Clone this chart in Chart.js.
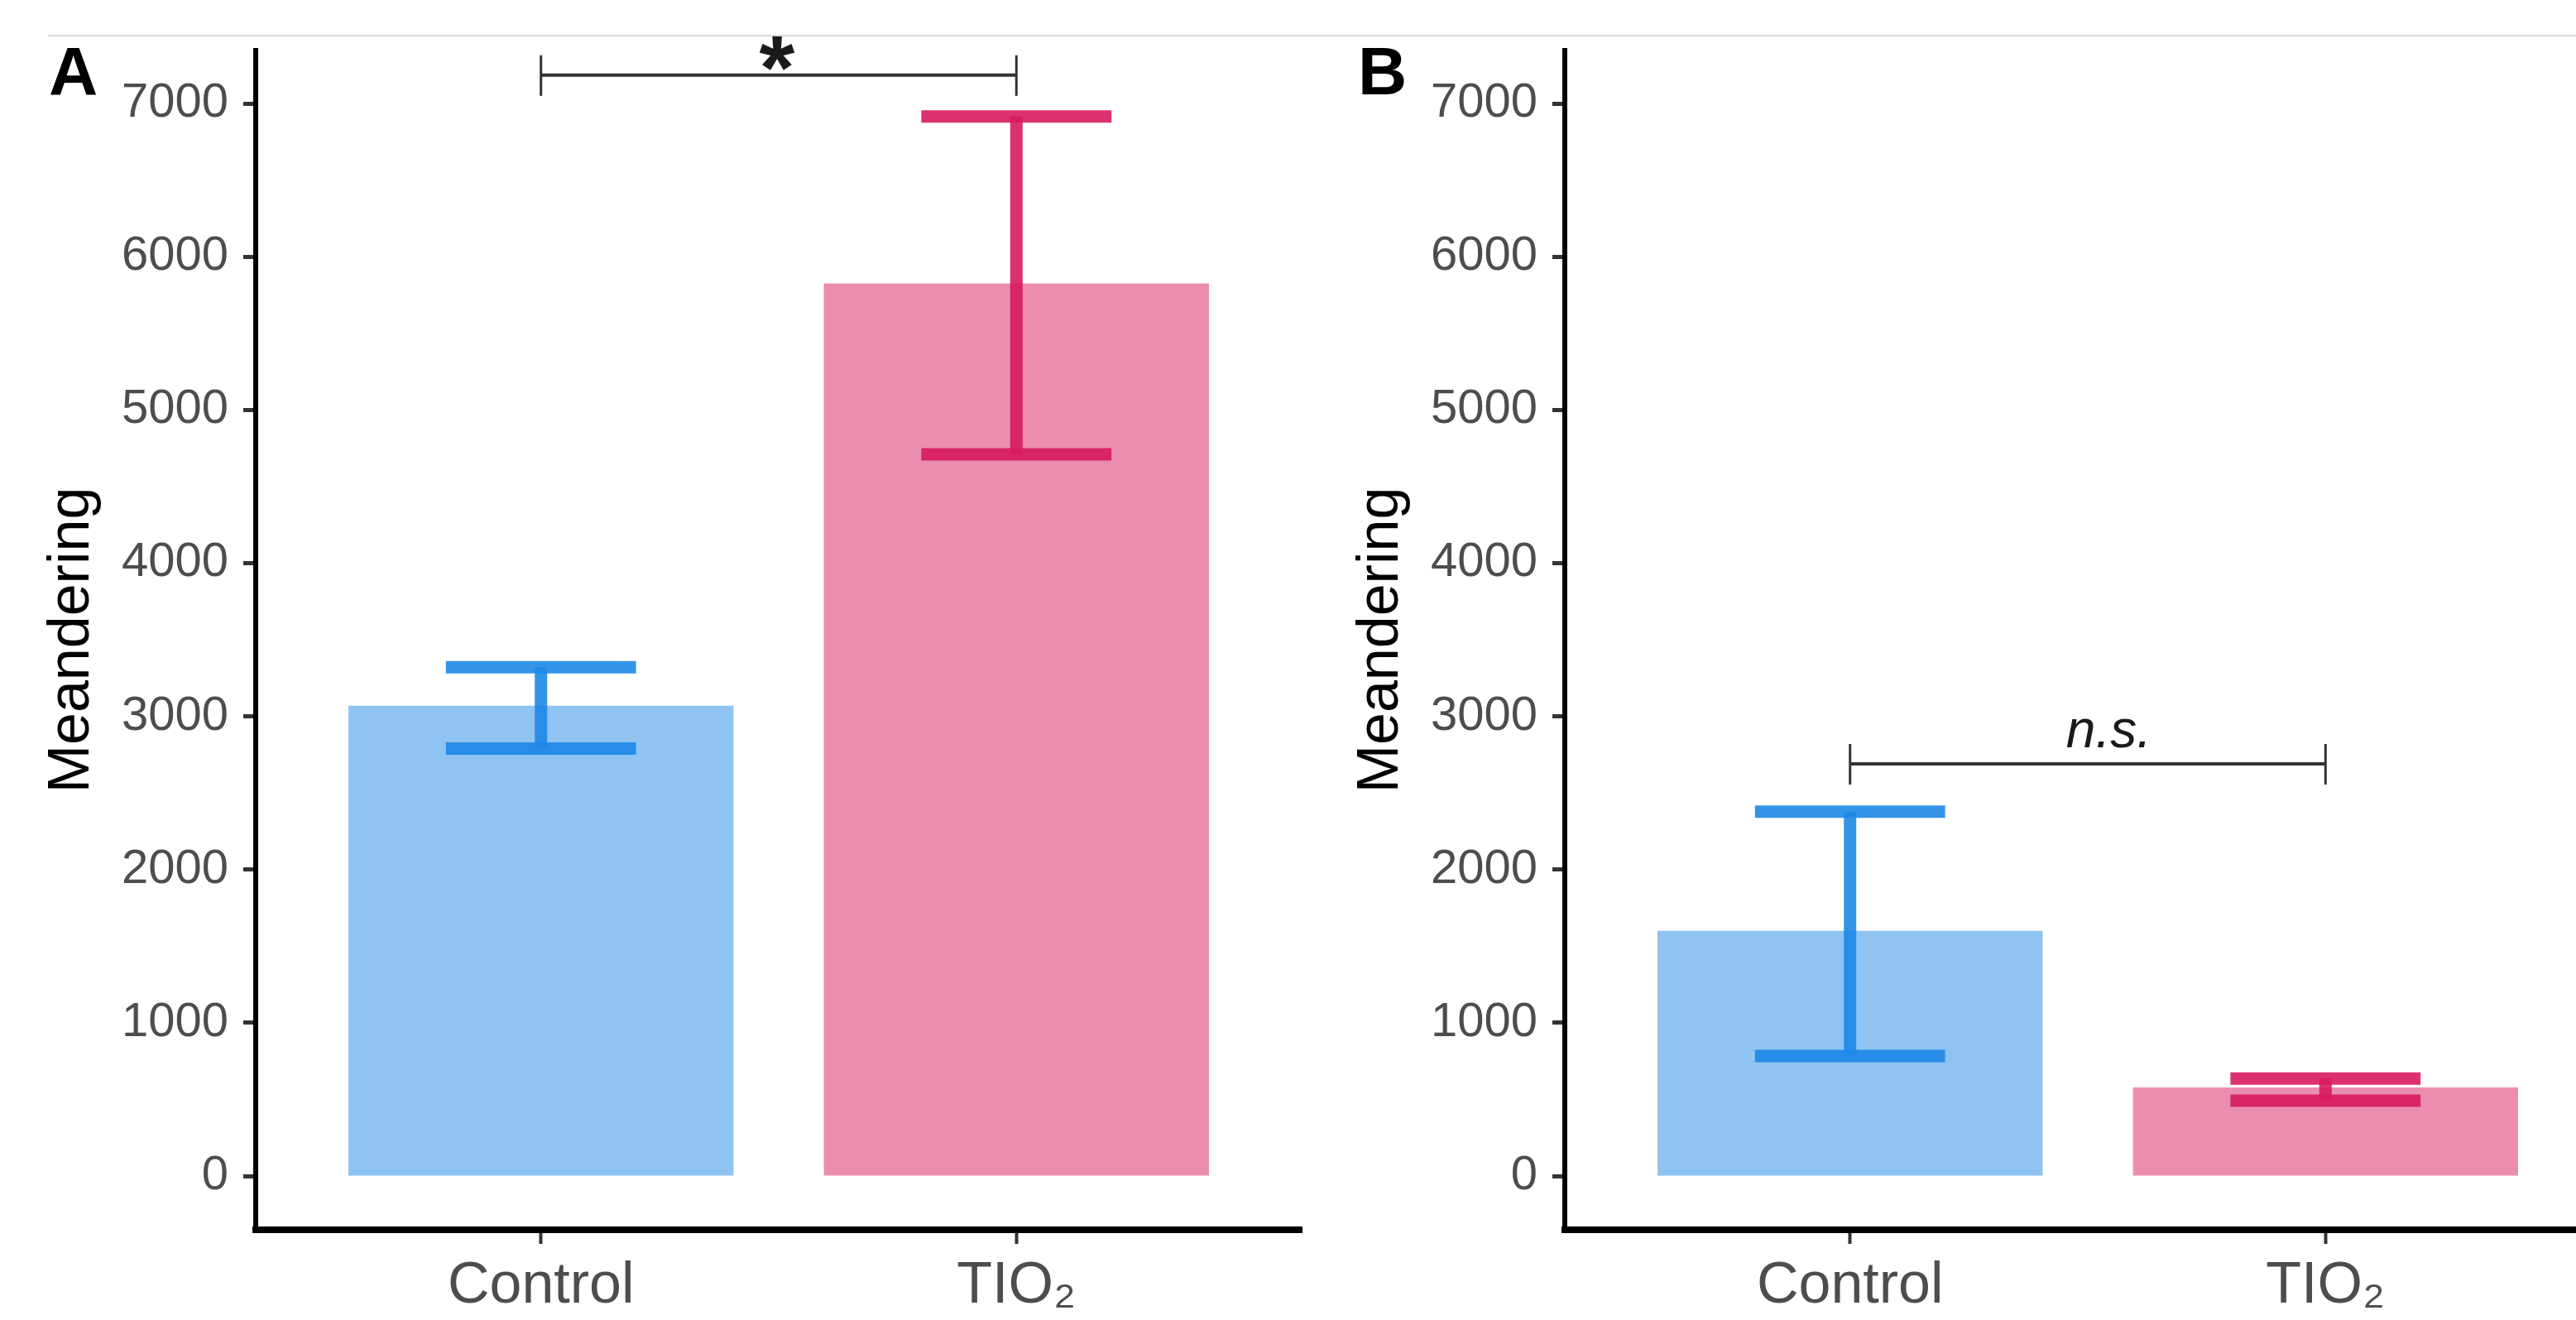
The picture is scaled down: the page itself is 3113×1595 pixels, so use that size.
<!DOCTYPE html>
<html>
<head>
<meta charset="utf-8">
<script src="https://cdn.jsdelivr.net/npm/chart.js@4.4.1/dist/chart.umd.min.js"></script>
<style>
  html, body { margin:0; padding:0; background:#fff; overflow:hidden; width:3113px; height:1595px; }
  #wrap { position:relative; width:3113px; height:1595px; overflow:hidden; background:#fff; }
  #topline { position:absolute; left:58px; right:0; top:42px; height:2px; background:#d9d9d9; }
  #ca { position:absolute; left:0; top:0; }
  #cb { position:absolute; left:1582px; top:0; }
</style>
</head>
<body>
<div id="wrap">
  <div id="topline"></div>
  <canvas id="ca" width="1580" height="1595"></canvas>
  <canvas id="cb" width="1620" height="1595"></canvas>
</div>
<script>
// ---------------- data ----------------
const categories = ['Control', 'TIO2'];
const tickLabels = ['Control', 'TIO\u2082'];
const yTickValues = [0, 1000, 2000, 3000, 4000, 5000, 6000, 7000];
const yRange = [-351, 7346];
const xRange = [-0.6, 1.6];
const panelLabels = ['A', 'B'];
const axisTitle = 'Meandering';

// Panel A
const meanA = [3070, 5825];
const lowA  = [2790, 4710];
const highA = [3320, 6915];
// Panel B
const meanB = [1600, 578];
const lowB  = [783, 491];
const highB = [2378, 636];

// significance brackets (between category 0 and 1)
const sigLabels = ['*', 'n.s.'];
const sigHeights = [7185, 2690];

// ---------------- styles ----------------
const FONT = '"Liberation Sans", Arial, Helvetica, sans-serif';
const barFill = ['rgba(30,136,229,0.5)', 'rgba(216,27,96,0.5)'];
const errColor = ['rgba(30,136,229,0.9)', 'rgba(216,27,96,0.9)'];
const capHalf = 0.2;

const overlay = {
  id: 'overlay',
  afterDatasetsDraw(chart, args, o) {
    const { ctx, scales: { x, y } } = chart;
    ctx.save();
    ctx.lineCap = 'butt';
    categories.forEach((c, i) => {
      const cx = x.getPixelForValue(i);
      const xl = x.getPixelForValue(i - capHalf);
      const xr = x.getPixelForValue(i + capHalf);
      const yl = y.getPixelForValue(o.low[i]);
      const yh = y.getPixelForValue(o.high[i]);
      ctx.strokeStyle = errColor[i];
      ctx.lineWidth = 15;
      ctx.beginPath(); ctx.moveTo(cx, yh); ctx.lineTo(cx, yl); ctx.stroke();
      ctx.beginPath(); ctx.moveTo(xl, yh); ctx.lineTo(xr, yh); ctx.stroke();
      ctx.beginPath(); ctx.moveTo(xl, yl); ctx.lineTo(xr, yl); ctx.stroke();
    });
    ctx.restore();
  },
  afterDraw(chart, args, o) {
    const { ctx, scales: { x, y } } = chart;
    ctx.save();
    // significance bracket
    const x0 = x.getPixelForValue(0), x1 = x.getPixelForValue(1);
    const ly = y.getPixelForValue(o.sigY);
    ctx.strokeStyle = '#333333';
    ctx.lineWidth = 4;
    ctx.beginPath(); ctx.moveTo(x0, ly); ctx.lineTo(x1, ly); ctx.stroke();
    ctx.lineWidth = 3;
    [x0, x1].forEach(px => {
      ctx.beginPath(); ctx.moveTo(px, ly - 24); ctx.lineTo(px, ly + 25); ctx.stroke();
    });
    // significance text
    ctx.fillStyle = '#1a1a1a';
    ctx.font = o.sigFont;
    ctx.textBaseline = 'alphabetic';
    const m = ctx.measureText(o.sigText);
    const gw = m.actualBoundingBoxLeft + m.actualBoundingBoxRight;
    const cx = (x0 + x1) / 2 + o.sigDx;
    ctx.textAlign = 'left';
    let baseY;
    if (o.sigMode === 'glyph') {
      baseY = ly - o.sigGap - m.actualBoundingBoxDescent;
    } else {
      baseY = ly - o.sigGap;
    }
    ctx.fillText(o.sigText, cx - gw / 2 + m.actualBoundingBoxLeft, baseY);
    // panel label
    ctx.fillStyle = '#000';
    ctx.font = 'bold 82px ' + FONT;
    ctx.textAlign = 'left';
    ctx.fillText(o.panel, 59, 114);
    ctx.restore();
  }
};

function makeChart(id, mean, low, high, idx, rightPad) {
  const ctx = document.getElementById(id).getContext('2d');
  return new Chart(ctx, {
    type: 'bar',
    data: {
      datasets: [{
        data: categories.map((c, i) => ({ x: i, y: mean[i] })),
        backgroundColor: barFill,
        borderWidth: 0,
        barPercentage: 0.81,
        categoryPercentage: 1
      }]
    },
    options: {
      responsive: false,
      animation: false,
      devicePixelRatio: 1,
      layout: { padding: { top: 61, left: 0, right: rightPad, bottom: 0 } },
      plugins: {
        legend: { display: false },
        tooltip: { enabled: false },
        overlay: {
          low: low, high: high,
          sigY: sigHeights[idx], sigText: sigLabels[idx],
          sigFont: idx === 0 ? ('bold 110px ' + FONT) : ('italic 64px ' + FONT),
          sigMode: idx === 0 ? 'glyph' : 'baseline',
          sigGap: idx === 0 ? 6 : 20,
          sigDx: idx === 0 ? -2 : 22,
          panel: panelLabels[idx]
        }
      },
      scales: {
        x: {
          type: 'linear',
          offset: false,
          min: xRange[0], max: xRange[1],
          afterBuildTicks: s => { s.ticks = categories.map((c, i) => ({ value: i })); },
          afterFit: s => { s.height = 109; },
          ticks: {
            callback: (v, i) => tickLabels[i],
            font: { family: FONT, size: 70 },
            color: '#4D4D4D',
            padding: 10,
            maxRotation: 0,
            autoSkip: false
          },
          grid: { display: true, offset: false, drawOnChartArea: false, drawTicks: true, tickLength: 17, tickWidth: 4, tickColor: '#333333' },
          border: { display: true, color: '#000000', width: 8 }
        },
        y: {
          type: 'linear',
          min: yRange[0], max: yRange[1],
          afterBuildTicks: s => { s.ticks = yTickValues.map(v => ({ value: v })); },
          afterFit: s => { s.width = 309; },
          ticks: {
            callback: v => String(v),
            font: { family: FONT, size: 58 },
            color: '#4D4D4D',
            padding: 18
          },
          grid: { display: true, drawOnChartArea: false, drawTicks: true, tickLength: 15, tickWidth: 5, tickColor: '#333333' },
          border: { display: true, color: '#000000', width: 6 },
          title: {
            display: true, text: axisTitle,
            font: { family: FONT, size: 70 },
            color: '#000000',
            padding: { top: 46, bottom: 0 }
          }
        }
      }
    },
    plugins: [overlay]
  });
}

makeChart('ca', meanA, lowA, highA, 0, 7);
makeChart('cb', meanB, lowB, highB, 1, 47);
</script>
</body>
</html>
